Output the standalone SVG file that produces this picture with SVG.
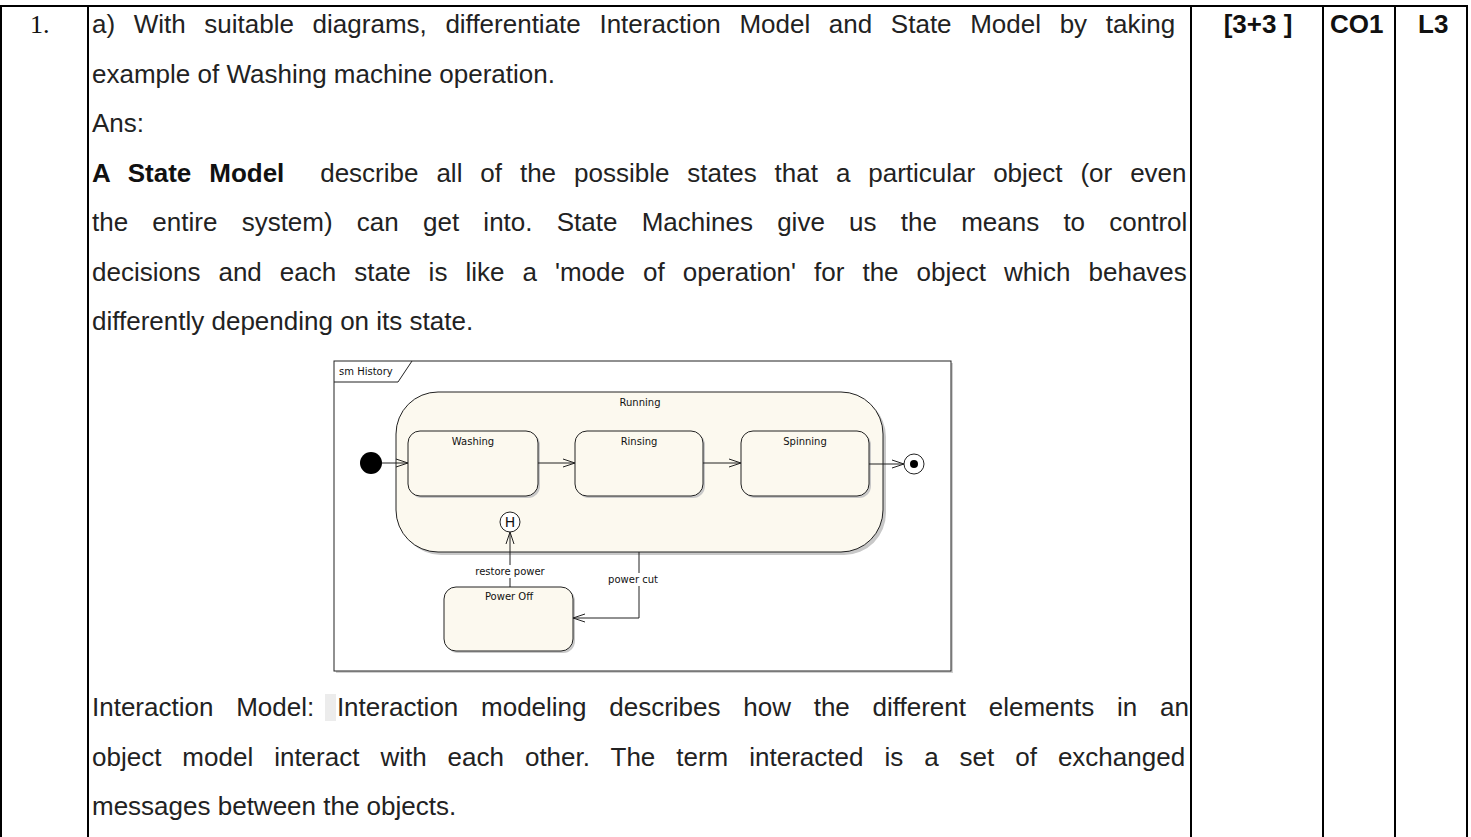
<svg xmlns="http://www.w3.org/2000/svg" width="1471" height="837" viewBox="0 0 1471 837">
<style>
.t{font-family:"Liberation Sans",Arial,sans-serif;font-size:26px;fill:#222}
.b{font-weight:bold;fill:#111}
.n{font-family:"Liberation Serif","Times New Roman",serif;font-size:26px;fill:#111}
.grid{stroke:#000;stroke-width:2;fill:none}
.st{fill:#fcf9ef;stroke:#222;stroke-width:1}
.sh{fill:#c8c8c8}
.lbl{font-family:"DejaVu Sans",Tahoma,sans-serif;font-size:10px;fill:#111}
.ln{stroke:#222;stroke-width:1;fill:none}
</style>
<defs>
<marker id="open" markerWidth="14" markerHeight="10" refX="13" refY="5" orient="auto" markerUnits="userSpaceOnUse">
<path d="M1,1 L13,5 L1,9" fill="none" stroke="#222" stroke-width="1"/>
</marker>
</defs>
<rect width="1471" height="837" fill="#fff"/>
<g id="table">
<line class="grid" x1="0" y1="6" x2="1468" y2="6"/>
<line class="grid" x1="1" y1="6" x2="1" y2="837"/>
<line class="grid" x1="88" y1="6" x2="88" y2="837"/>
<line class="grid" x1="1191" y1="6" x2="1191" y2="837"/>
<line class="grid" x1="1323" y1="6" x2="1323" y2="837"/>
<line class="grid" x1="1395" y1="6" x2="1395" y2="837"/>
<line class="grid" x1="1467" y1="6" x2="1467" y2="837"/>
</g>
<g id="header">
<text class="n" x="30" y="33">1.</text>
<text class="t b" x="1258" y="33" text-anchor="middle">[3+3 ]</text>
<text class="t b" x="1330" y="33">CO1</text>
<text class="t b" x="1418" y="33">L3</text>
</g>
<g id="body">
<text class="t" x="92" y="33" word-spacing="11.4">a) With suitable diagrams, differentiate Interaction Model and State Model by taking</text>
<text class="t" x="92" y="82.5">example of Washing machine operation.</text>
<text class="t" x="92" y="132">Ans:</text>
<text class="t" x="92" y="181.5" word-spacing="10.7" xml:space="preserve" style="white-space:pre"><tspan class="b">A State Model</tspan>  describe all of the possible states that a particular object (or even</text>
<text class="t" x="92" y="231" word-spacing="17">the entire system) can get into. State Machines give us the means to control</text>
<text class="t" x="92" y="280.5" word-spacing="10.8">decisions and each state is like a 'mode of operation' for the object which behaves</text>
<text class="t" x="92" y="330">differently depending on its state.</text>
<rect x="325" y="694" width="11" height="27" fill="#ececec"/>
<text class="t" x="92" y="716" word-spacing="15.5">Interaction Model: Interaction modeling describes how the different elements in an</text>
<text class="t" x="92" y="765.5" word-spacing="13.75">object model interact with each other. The term interacted is a set of exchanged</text>
<text class="t" x="92" y="815">messages between the objects.</text>
</g>
<g id="frame">
<rect x="336" y="363" width="617" height="310" fill="#d0d0d0"/>
<rect x="334" y="361" width="617" height="310" fill="#fff" stroke="#222" stroke-width="1"/>
<path d="M334,382 L398,382 L412,361" class="ln"/>
<text class="lbl" x="339" y="375">sm History</text>
</g>
<g id="running">
<rect class="sh" x="399" y="395" width="487" height="160" rx="42"/>
<rect class="st" x="396" y="392" width="487" height="160" rx="42"/>
<text class="lbl" x="640" y="406" text-anchor="middle">Running</text>
</g>
<g id="washing">
<rect class="sh" x="410" y="433" width="130" height="65" rx="12"/>
<rect class="st" x="408" y="431" width="130" height="65" rx="12"/>
<text class="lbl" x="473" y="445" text-anchor="middle">Washing</text>
</g>
<g id="rinsing">
<rect class="sh" x="577" y="433" width="128" height="65" rx="12"/>
<rect class="st" x="575" y="431" width="128" height="65" rx="12"/>
<text class="lbl" x="639" y="445" text-anchor="middle">Rinsing</text>
</g>
<g id="spinning">
<rect class="sh" x="743" y="433" width="128" height="65" rx="12"/>
<rect class="st" x="741" y="431" width="128" height="65" rx="12"/>
<text class="lbl" x="805" y="445" text-anchor="middle">Spinning</text>
</g>
<g id="poweroff">
<rect class="sh" x="446" y="589" width="129" height="64" rx="12"/>
<rect class="st" x="444" y="587" width="129" height="64" rx="12"/>
<text class="lbl" x="509" y="600" text-anchor="middle">Power Off</text>
</g>
<g id="initial">
<circle cx="371" cy="463" r="11" fill="#000"/>
</g>
<g id="final">
<circle cx="914" cy="464" r="10" fill="#fff" stroke="#222" stroke-width="1"/>
<circle cx="914" cy="464" r="4" fill="#000"/>
</g>
<g id="history">
<circle cx="510" cy="522" r="10" fill="#fff" stroke="#222" stroke-width="1"/>
<text class="lbl" x="510" y="527" text-anchor="middle" style="font-size:14px">H</text>
</g>
<g id="connectors">
<line class="ln" x1="382" y1="463" x2="408" y2="463" marker-end="url(#open)"/>
<line class="ln" x1="538" y1="463" x2="575" y2="463" marker-end="url(#open)"/>
<line class="ln" x1="703" y1="463" x2="741" y2="463" marker-end="url(#open)"/>
<line class="ln" x1="869" y1="464" x2="904" y2="464" marker-end="url(#open)"/>
<line class="ln" x1="510" y1="587" x2="510" y2="532" marker-end="url(#open)"/>
<polyline class="ln" points="639,552 639,618 573,618" marker-end="url(#open)"/>
<rect x="475" y="565" width="70" height="13" fill="#fff"/>
<text class="lbl" x="510" y="575" text-anchor="middle">restore power</text>
<rect x="607" y="573" width="52" height="13" fill="#fff"/>
<text class="lbl" x="633" y="583" text-anchor="middle">power cut</text>
</g>
</svg>
